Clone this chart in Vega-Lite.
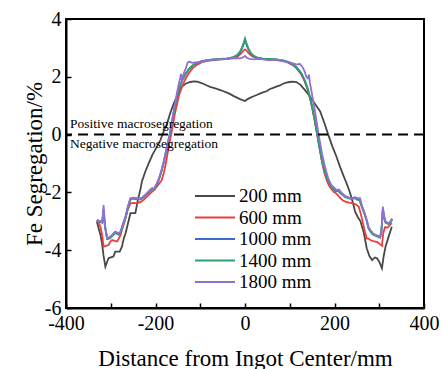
{
"$schema": "https://vega.github.io/schema/vega-lite/v6.json",
"width": 358, "height": 289,
"autosize": {"type": "none"},
"padding": {"left": 66, "top": 19, "right": 19, "bottom": 61},
"background": "white",
"config": {
  "view": {"stroke": "black", "strokeWidth": 2},
  "font": "Liberation Serif",
  "axis": {"grid": false, "domainColor": "black", "domainWidth": 2, "tickColor": "black", "tickWidth": 1.5, "tickSize": -5, "labelFont": "Liberation Serif", "labelFontSize": 20, "labelColor": "black", "titleFont": "Liberation Serif", "titleFontSize": 23, "titleFontWeight": "normal", "titleColor": "black"},
  "legend": {"labelFont": "Liberation Serif"},
  "text": {"font": "Liberation Serif"}
},
"layer": [
{
  "data": {"values": [
{"s":"200 mm","x":-331,"y":-3.01},{"s":"200 mm","x":-327,"y":-3.25},{"s":"200 mm","x":-323,"y":-3.47},{"s":"200 mm","x":-319.6,"y":-3.76},{"s":"200 mm","x":-316,"y":-4.2},{"s":"200 mm","x":-312,"y":-4.57},{"s":"200 mm","x":-308,"y":-4.4},{"s":"200 mm","x":-305,"y":-4.28},{"s":"200 mm","x":-300,"y":-4.25},{"s":"200 mm","x":-294,"y":-4.22},{"s":"200 mm","x":-290,"y":-4.05},{"s":"200 mm","x":-285,"y":-4.05},{"s":"200 mm","x":-280,"y":-4.05},{"s":"200 mm","x":-275,"y":-3.88},{"s":"200 mm","x":-271,"y":-3.6},{"s":"200 mm","x":-267,"y":-3.42},{"s":"200 mm","x":-262,"y":-3.1},{"s":"200 mm","x":-256,"y":-2.72},{"s":"200 mm","x":-250,"y":-2.72},{"s":"200 mm","x":-245,"y":-2.72},{"s":"200 mm","x":-240,"y":-2.3},{"s":"200 mm","x":-234,"y":-1.92},{"s":"200 mm","x":-230,"y":-1.6},{"s":"200 mm","x":-222,"y":-1.25},{"s":"200 mm","x":-215,"y":-0.99},{"s":"200 mm","x":-207,"y":-0.7},{"s":"200 mm","x":-198,"y":-0.45},{"s":"200 mm","x":-189,"y":-0.19},{"s":"200 mm","x":-182,"y":0.1},{"s":"200 mm","x":-174,"y":0.39},{"s":"200 mm","x":-167,"y":0.75},{"s":"200 mm","x":-159,"y":1.08},{"s":"200 mm","x":-150,"y":1.4},{"s":"200 mm","x":-141,"y":1.66},{"s":"200 mm","x":-132,"y":1.77},{"s":"200 mm","x":-122,"y":1.82},{"s":"200 mm","x":-114,"y":1.84},{"s":"200 mm","x":-107,"y":1.83},{"s":"200 mm","x":-100,"y":1.8},{"s":"200 mm","x":-92,"y":1.75},{"s":"200 mm","x":-85,"y":1.7},{"s":"200 mm","x":-78,"y":1.65},{"s":"200 mm","x":-70,"y":1.62},{"s":"200 mm","x":-63,"y":1.58},{"s":"200 mm","x":-55,"y":1.54},{"s":"200 mm","x":-48,"y":1.5},{"s":"200 mm","x":-40,"y":1.45},{"s":"200 mm","x":-33,"y":1.4},{"s":"200 mm","x":-26,"y":1.34},{"s":"200 mm","x":-18,"y":1.28},{"s":"200 mm","x":-11,"y":1.23},{"s":"200 mm","x":-5,"y":1.19},{"s":"200 mm","x":0,"y":1.16},
{"s":"200 mm","x":5,"y":1.22},{"s":"200 mm","x":11,"y":1.27},{"s":"200 mm","x":18,"y":1.32},{"s":"200 mm","x":26,"y":1.37},{"s":"200 mm","x":33,"y":1.42},{"s":"200 mm","x":40,"y":1.46},{"s":"200 mm","x":48,"y":1.5},{"s":"200 mm","x":56,"y":1.58},{"s":"200 mm","x":63,"y":1.62},{"s":"200 mm","x":70,"y":1.66},{"s":"200 mm","x":78,"y":1.7},{"s":"200 mm","x":85,"y":1.76},{"s":"200 mm","x":92,"y":1.8},{"s":"200 mm","x":100,"y":1.82},{"s":"200 mm","x":107,"y":1.83},{"s":"200 mm","x":115,"y":1.82},{"s":"200 mm","x":124,"y":1.72},{"s":"200 mm","x":135,"y":1.52},{"s":"200 mm","x":146,"y":1.3},{"s":"200 mm","x":157,"y":1.05},{"s":"200 mm","x":168,"y":0.8},{"s":"200 mm","x":177,"y":0.42},{"s":"200 mm","x":186,"y":0.0},{"s":"200 mm","x":195,"y":-0.4},{"s":"200 mm","x":204,"y":-0.75},{"s":"200 mm","x":212,"y":-1.1},{"s":"200 mm","x":220,"y":-1.42},{"s":"200 mm","x":226,"y":-1.65},{"s":"200 mm","x":231,"y":-1.85},{"s":"200 mm","x":235,"y":-2.03},{"s":"200 mm","x":241,"y":-2.35},{"s":"200 mm","x":246,"y":-2.67},{"s":"200 mm","x":252,"y":-2.85},{"s":"200 mm","x":258,"y":-3.0},{"s":"200 mm","x":265,"y":-3.36},{"s":"200 mm","x":272,"y":-3.93},{"s":"200 mm","x":278,"y":-4.2},{"s":"200 mm","x":284,"y":-4.34},{"s":"200 mm","x":290,"y":-4.25},{"s":"200 mm","x":295,"y":-4.28},{"s":"200 mm","x":300,"y":-4.4},{"s":"200 mm","x":306,"y":-4.63},{"s":"200 mm","x":310,"y":-4.2},{"s":"200 mm","x":314,"y":-3.88},{"s":"200 mm","x":321,"y":-3.53},{"s":"200 mm","x":328,"y":-3.19},
{"s":"600 mm","x":-331,"y":-2.96},{"s":"600 mm","x":-327,"y":-3.05},{"s":"600 mm","x":-323,"y":-3.19},{"s":"600 mm","x":-319,"y":-3.5},{"s":"600 mm","x":-316,"y":-3.88},{"s":"600 mm","x":-311,"y":-3.85},{"s":"600 mm","x":-305,"y":-3.82},{"s":"600 mm","x":-301,"y":-3.7},{"s":"600 mm","x":-297,"y":-3.65},{"s":"600 mm","x":-291,"y":-3.68},{"s":"600 mm","x":-286,"y":-3.7},{"s":"600 mm","x":-282,"y":-3.6},{"s":"600 mm","x":-278,"y":-3.47},{"s":"600 mm","x":-273,"y":-3.2},{"s":"600 mm","x":-267,"y":-2.9},{"s":"600 mm","x":-262,"y":-2.6},{"s":"600 mm","x":-256,"y":-2.38},{"s":"600 mm","x":-248,"y":-2.36},{"s":"600 mm","x":-241,"y":-2.38},{"s":"600 mm","x":-233,"y":-2.33},{"s":"600 mm","x":-226,"y":-2.25},{"s":"600 mm","x":-219,"y":-2.15},{"s":"600 mm","x":-213,"y":-2.05},{"s":"600 mm","x":-208,"y":-1.98},{"s":"600 mm","x":-202,"y":-1.9},{"s":"600 mm","x":-197,"y":-1.8},{"s":"600 mm","x":-191,"y":-1.68},{"s":"600 mm","x":-186,"y":-1.57},{"s":"600 mm","x":-181,"y":-1.3},{"s":"600 mm","x":-177,"y":-1.0},{"s":"600 mm","x":-173,"y":-0.65},{"s":"600 mm","x":-169,"y":-0.3},{"s":"600 mm","x":-165,"y":0.0},{"s":"600 mm","x":-161,"y":0.35},{"s":"600 mm","x":-157,"y":0.7},{"s":"600 mm","x":-152,"y":1.05},{"s":"600 mm","x":-147,"y":1.38},{"s":"600 mm","x":-141,"y":1.65},{"s":"600 mm","x":-134,"y":1.9},{"s":"600 mm","x":-126,"y":2.12},{"s":"600 mm","x":-117,"y":2.3},{"s":"600 mm","x":-107,"y":2.42},{"s":"600 mm","x":-97,"y":2.5},{"s":"600 mm","x":-85,"y":2.55},{"s":"600 mm","x":-70,"y":2.58},{"s":"600 mm","x":-55,"y":2.6},{"s":"600 mm","x":-40,"y":2.62},{"s":"600 mm","x":-25,"y":2.65},{"s":"600 mm","x":-15,"y":2.72},{"s":"600 mm","x":-8,"y":2.82},{"s":"600 mm","x":-4,"y":2.9},{"s":"600 mm","x":0,"y":2.95},
{"s":"600 mm","x":4,"y":2.9},{"s":"600 mm","x":8,"y":2.82},{"s":"600 mm","x":15,"y":2.72},{"s":"600 mm","x":25,"y":2.65},{"s":"600 mm","x":40,"y":2.62},{"s":"600 mm","x":55,"y":2.6},{"s":"600 mm","x":70,"y":2.58},{"s":"600 mm","x":85,"y":2.55},{"s":"600 mm","x":95,"y":2.5},{"s":"600 mm","x":105,"y":2.42},{"s":"600 mm","x":115,"y":2.3},{"s":"600 mm","x":125,"y":2.1},{"s":"600 mm","x":133,"y":1.85},{"s":"600 mm","x":140,"y":1.55},{"s":"600 mm","x":146,"y":1.2},{"s":"600 mm","x":151,"y":0.85},{"s":"600 mm","x":156,"y":0.45},{"s":"600 mm","x":160,"y":0.1},{"s":"600 mm","x":164,"y":-0.25},{"s":"600 mm","x":168,"y":-0.6},{"s":"600 mm","x":172,"y":-0.95},{"s":"600 mm","x":177,"y":-1.3},{"s":"600 mm","x":182,"y":-1.55},{"s":"600 mm","x":187,"y":-1.75},{"s":"600 mm","x":193,"y":-1.88},{"s":"600 mm","x":198,"y":-1.98},{"s":"600 mm","x":205,"y":-2.05},{"s":"600 mm","x":213,"y":-2.2},{"s":"600 mm","x":219,"y":-2.28},{"s":"600 mm","x":224,"y":-2.32},{"s":"600 mm","x":232,"y":-2.35},{"s":"600 mm","x":242,"y":-2.38},{"s":"600 mm","x":248,"y":-2.42},{"s":"600 mm","x":254,"y":-2.49},{"s":"600 mm","x":258,"y":-2.7},{"s":"600 mm","x":262,"y":-2.95},{"s":"600 mm","x":267,"y":-3.3},{"s":"600 mm","x":272,"y":-3.59},{"s":"600 mm","x":276,"y":-3.6},{"s":"600 mm","x":280,"y":-3.65},{"s":"600 mm","x":285,"y":-3.68},{"s":"600 mm","x":291,"y":-3.7},{"s":"600 mm","x":296,"y":-3.72},{"s":"600 mm","x":302,"y":-3.8},{"s":"600 mm","x":306,"y":-3.85},{"s":"600 mm","x":309,"y":-3.4},{"s":"600 mm","x":313,"y":-3.2},{"s":"600 mm","x":318,"y":-3.22},{"s":"600 mm","x":323,"y":-3.15},{"s":"600 mm","x":328,"y":-3.05},
{"s":"1000 mm","x":-331,"y":-2.95},{"s":"1000 mm","x":-325,"y":-2.99},{"s":"1000 mm","x":-319,"y":-3.02},{"s":"1000 mm","x":-316,"y":-2.6},{"s":"1000 mm","x":-313,"y":-3.17},{"s":"1000 mm","x":-308,"y":-3.59},{"s":"1000 mm","x":-303,"y":-3.57},{"s":"1000 mm","x":-297,"y":-3.49},{"s":"1000 mm","x":-290,"y":-3.37},{"s":"1000 mm","x":-282,"y":-3.44},{"s":"1000 mm","x":-278,"y":-3.37},{"s":"1000 mm","x":-273,"y":-3.12},{"s":"1000 mm","x":-267,"y":-2.85},{"s":"1000 mm","x":-262,"y":-2.52},{"s":"1000 mm","x":-256,"y":-2.22},{"s":"1000 mm","x":-250,"y":-2.19},{"s":"1000 mm","x":-241,"y":-2.21},{"s":"1000 mm","x":-235,"y":-2.22},{"s":"1000 mm","x":-230,"y":-2.19},{"s":"1000 mm","x":-224,"y":-2.11},{"s":"1000 mm","x":-219,"y":-2.04},{"s":"1000 mm","x":-213,"y":-1.94},{"s":"1000 mm","x":-208,"y":-1.87},{"s":"1000 mm","x":-203,"y":-1.87},{"s":"1000 mm","x":-197,"y":-1.71},{"s":"1000 mm","x":-192,"y":-1.52},{"s":"1000 mm","x":-187,"y":-1.28},{"s":"1000 mm","x":-182,"y":-0.98},{"s":"1000 mm","x":-177,"y":-0.63},{"s":"1000 mm","x":-172,"y":-0.28},{"s":"1000 mm","x":-168,"y":0.02},{"s":"1000 mm","x":-164,"y":0.37},{"s":"1000 mm","x":-160,"y":0.72},{"s":"1000 mm","x":-155,"y":1.1},{"s":"1000 mm","x":-150,"y":1.44},{"s":"1000 mm","x":-145,"y":1.69},{"s":"1000 mm","x":-140,"y":1.89},{"s":"1000 mm","x":-133,"y":2.09},{"s":"1000 mm","x":-125,"y":2.27},{"s":"1000 mm","x":-115,"y":2.41},{"s":"1000 mm","x":-105,"y":2.49},{"s":"1000 mm","x":-95,"y":2.54},{"s":"1000 mm","x":-85,"y":2.57},{"s":"1000 mm","x":-70,"y":2.59},{"s":"1000 mm","x":-55,"y":2.61},{"s":"1000 mm","x":-40,"y":2.63},{"s":"1000 mm","x":-28,"y":2.66},{"s":"1000 mm","x":-18,"y":2.73},{"s":"1000 mm","x":-12,"y":2.83},{"s":"1000 mm","x":-7,"y":2.97},{"s":"1000 mm","x":-3,"y":3.13},{"s":"1000 mm","x":0,"y":3.26},
{"s":"1000 mm","x":3,"y":3.13},{"s":"1000 mm","x":7,"y":2.97},{"s":"1000 mm","x":12,"y":2.83},{"s":"1000 mm","x":18,"y":2.73},{"s":"1000 mm","x":28,"y":2.65},{"s":"1000 mm","x":40,"y":2.62},{"s":"1000 mm","x":55,"y":2.61},{"s":"1000 mm","x":70,"y":2.59},{"s":"1000 mm","x":85,"y":2.56},{"s":"1000 mm","x":95,"y":2.52},{"s":"1000 mm","x":105,"y":2.44},{"s":"1000 mm","x":115,"y":2.32},{"s":"1000 mm","x":125,"y":2.14},{"s":"1000 mm","x":133,"y":1.89},{"s":"1000 mm","x":140,"y":1.59},{"s":"1000 mm","x":146,"y":1.24},{"s":"1000 mm","x":151,"y":0.89},{"s":"1000 mm","x":156,"y":0.49},{"s":"1000 mm","x":160,"y":0.14},{"s":"1000 mm","x":164,"y":-0.21},{"s":"1000 mm","x":168,"y":-0.56},{"s":"1000 mm","x":172,"y":-0.89},{"s":"1000 mm","x":177,"y":-1.18},{"s":"1000 mm","x":182,"y":-1.42},{"s":"1000 mm","x":187,"y":-1.62},{"s":"1000 mm","x":193,"y":-1.77},{"s":"1000 mm","x":198,"y":-1.87},{"s":"1000 mm","x":203,"y":-1.94},{"s":"1000 mm","x":208,"y":-1.92},{"s":"1000 mm","x":213,"y":-2.0},{"s":"1000 mm","x":219,"y":-2.07},{"s":"1000 mm","x":224,"y":-2.14},{"s":"1000 mm","x":230,"y":-2.17},{"s":"1000 mm","x":235,"y":-2.19},{"s":"1000 mm","x":241,"y":-2.19},{"s":"1000 mm","x":246,"y":-2.17},{"s":"1000 mm","x":250,"y":-2.22},{"s":"1000 mm","x":256,"y":-2.25},{"s":"1000 mm","x":262,"y":-2.52},{"s":"1000 mm","x":267,"y":-2.72},{"s":"1000 mm","x":272,"y":-2.97},{"s":"1000 mm","x":276,"y":-3.22},{"s":"1000 mm","x":280,"y":-3.32},{"s":"1000 mm","x":285,"y":-3.42},{"s":"1000 mm","x":291,"y":-3.47},{"s":"1000 mm","x":296,"y":-3.5},{"s":"1000 mm","x":302,"y":-3.55},{"s":"1000 mm","x":305,"y":-3.32},{"s":"1000 mm","x":308,"y":-2.6},{"s":"1000 mm","x":311,"y":-2.87},{"s":"1000 mm","x":314,"y":-3.02},{"s":"1000 mm","x":318,"y":-3.05},{"s":"1000 mm","x":321,"y":-3.07},{"s":"1000 mm","x":325,"y":-3.0},{"s":"1000 mm","x":329,"y":-2.92},
{"s":"1400 mm","x":-331,"y":-2.98},{"s":"1400 mm","x":-325,"y":-3.02},{"s":"1400 mm","x":-319,"y":-3.05},{"s":"1400 mm","x":-316,"y":-2.6},{"s":"1400 mm","x":-313,"y":-3.2},{"s":"1400 mm","x":-308,"y":-3.62},{"s":"1400 mm","x":-303,"y":-3.6},{"s":"1400 mm","x":-297,"y":-3.52},{"s":"1400 mm","x":-290,"y":-3.4},{"s":"1400 mm","x":-282,"y":-3.47},{"s":"1400 mm","x":-278,"y":-3.4},{"s":"1400 mm","x":-273,"y":-3.15},{"s":"1400 mm","x":-267,"y":-2.88},{"s":"1400 mm","x":-262,"y":-2.55},{"s":"1400 mm","x":-256,"y":-2.25},{"s":"1400 mm","x":-250,"y":-2.22},{"s":"1400 mm","x":-241,"y":-2.24},{"s":"1400 mm","x":-235,"y":-2.25},{"s":"1400 mm","x":-230,"y":-2.22},{"s":"1400 mm","x":-224,"y":-2.14},{"s":"1400 mm","x":-219,"y":-2.07},{"s":"1400 mm","x":-213,"y":-1.97},{"s":"1400 mm","x":-208,"y":-1.9},{"s":"1400 mm","x":-203,"y":-1.9},{"s":"1400 mm","x":-197,"y":-1.74},{"s":"1400 mm","x":-192,"y":-1.55},{"s":"1400 mm","x":-187,"y":-1.3},{"s":"1400 mm","x":-182,"y":-1.0},{"s":"1400 mm","x":-177,"y":-0.65},{"s":"1400 mm","x":-172,"y":-0.3},{"s":"1400 mm","x":-168,"y":0.0},{"s":"1400 mm","x":-164,"y":0.35},{"s":"1400 mm","x":-160,"y":0.7},{"s":"1400 mm","x":-155,"y":1.1},{"s":"1400 mm","x":-150,"y":1.45},{"s":"1400 mm","x":-145,"y":1.7},{"s":"1400 mm","x":-140,"y":1.9},{"s":"1400 mm","x":-133,"y":2.1},{"s":"1400 mm","x":-125,"y":2.28},{"s":"1400 mm","x":-115,"y":2.42},{"s":"1400 mm","x":-105,"y":2.5},{"s":"1400 mm","x":-95,"y":2.55},{"s":"1400 mm","x":-85,"y":2.58},{"s":"1400 mm","x":-70,"y":2.6},{"s":"1400 mm","x":-55,"y":2.62},{"s":"1400 mm","x":-40,"y":2.64},{"s":"1400 mm","x":-28,"y":2.67},{"s":"1400 mm","x":-18,"y":2.75},{"s":"1400 mm","x":-12,"y":2.85},{"s":"1400 mm","x":-7,"y":3.0},{"s":"1400 mm","x":-3,"y":3.18},{"s":"1400 mm","x":0,"y":3.33},
{"s":"1400 mm","x":3,"y":3.18},{"s":"1400 mm","x":7,"y":3.0},{"s":"1400 mm","x":12,"y":2.85},{"s":"1400 mm","x":18,"y":2.74},{"s":"1400 mm","x":28,"y":2.66},{"s":"1400 mm","x":40,"y":2.63},{"s":"1400 mm","x":55,"y":2.62},{"s":"1400 mm","x":70,"y":2.6},{"s":"1400 mm","x":85,"y":2.57},{"s":"1400 mm","x":95,"y":2.53},{"s":"1400 mm","x":105,"y":2.45},{"s":"1400 mm","x":115,"y":2.33},{"s":"1400 mm","x":125,"y":2.15},{"s":"1400 mm","x":133,"y":1.9},{"s":"1400 mm","x":140,"y":1.6},{"s":"1400 mm","x":146,"y":1.25},{"s":"1400 mm","x":151,"y":0.9},{"s":"1400 mm","x":156,"y":0.5},{"s":"1400 mm","x":160,"y":0.15},{"s":"1400 mm","x":164,"y":-0.2},{"s":"1400 mm","x":168,"y":-0.55},{"s":"1400 mm","x":172,"y":-0.9},{"s":"1400 mm","x":177,"y":-1.2},{"s":"1400 mm","x":182,"y":-1.45},{"s":"1400 mm","x":187,"y":-1.65},{"s":"1400 mm","x":193,"y":-1.8},{"s":"1400 mm","x":198,"y":-1.9},{"s":"1400 mm","x":203,"y":-1.97},{"s":"1400 mm","x":208,"y":-1.95},{"s":"1400 mm","x":213,"y":-2.03},{"s":"1400 mm","x":219,"y":-2.1},{"s":"1400 mm","x":224,"y":-2.17},{"s":"1400 mm","x":230,"y":-2.2},{"s":"1400 mm","x":235,"y":-2.22},{"s":"1400 mm","x":241,"y":-2.22},{"s":"1400 mm","x":246,"y":-2.2},{"s":"1400 mm","x":250,"y":-2.25},{"s":"1400 mm","x":256,"y":-2.28},{"s":"1400 mm","x":262,"y":-2.55},{"s":"1400 mm","x":267,"y":-2.75},{"s":"1400 mm","x":272,"y":-3.0},{"s":"1400 mm","x":276,"y":-3.25},{"s":"1400 mm","x":280,"y":-3.35},{"s":"1400 mm","x":285,"y":-3.45},{"s":"1400 mm","x":291,"y":-3.5},{"s":"1400 mm","x":296,"y":-3.53},{"s":"1400 mm","x":302,"y":-3.57},{"s":"1400 mm","x":305,"y":-3.35},{"s":"1400 mm","x":308,"y":-2.6},{"s":"1400 mm","x":311,"y":-2.9},{"s":"1400 mm","x":314,"y":-3.05},{"s":"1400 mm","x":318,"y":-3.08},{"s":"1400 mm","x":321,"y":-3.1},{"s":"1400 mm","x":325,"y":-3.03},{"s":"1400 mm","x":329,"y":-2.95},
{"s":"1800 mm","x":-331,"y":-2.96},{"s":"1800 mm","x":-328,"y":-3.0},{"s":"1800 mm","x":-325,"y":-2.98},{"s":"1800 mm","x":-322,"y":-3.02},{"s":"1800 mm","x":-319,"y":-3.0},{"s":"1800 mm","x":-316,"y":-2.44},{"s":"1800 mm","x":-313,"y":-3.1},{"s":"1800 mm","x":-308,"y":-3.59},{"s":"1800 mm","x":-303,"y":-3.55},{"s":"1800 mm","x":-297,"y":-3.47},{"s":"1800 mm","x":-293,"y":-3.4},{"s":"1800 mm","x":-290,"y":-3.36},{"s":"1800 mm","x":-286,"y":-3.38},{"s":"1800 mm","x":-282,"y":-3.42},{"s":"1800 mm","x":-278,"y":-3.35},{"s":"1800 mm","x":-273,"y":-3.1},{"s":"1800 mm","x":-267,"y":-2.84},{"s":"1800 mm","x":-262,"y":-2.5},{"s":"1800 mm","x":-256,"y":-2.2},{"s":"1800 mm","x":-250,"y":-2.18},{"s":"1800 mm","x":-245,"y":-2.2},{"s":"1800 mm","x":-241,"y":-2.2},{"s":"1800 mm","x":-235,"y":-2.22},{"s":"1800 mm","x":-230,"y":-2.18},{"s":"1800 mm","x":-224,"y":-2.1},{"s":"1800 mm","x":-219,"y":-2.03},{"s":"1800 mm","x":-213,"y":-1.92},{"s":"1800 mm","x":-208,"y":-1.86},{"s":"1800 mm","x":-203,"y":-1.88},{"s":"1800 mm","x":-197,"y":-1.69},{"s":"1800 mm","x":-192,"y":-1.5},{"s":"1800 mm","x":-187,"y":-1.25},{"s":"1800 mm","x":-182,"y":-0.95},{"s":"1800 mm","x":-177,"y":-0.6},{"s":"1800 mm","x":-172,"y":-0.25},{"s":"1800 mm","x":-168,"y":0.05},{"s":"1800 mm","x":-164,"y":0.4},{"s":"1800 mm","x":-160,"y":0.75},{"s":"1800 mm","x":-156,"y":1.1},{"s":"1800 mm","x":-152,"y":1.45},{"s":"1800 mm","x":-148,"y":1.75},{"s":"1800 mm","x":-145,"y":1.95},{"s":"1800 mm","x":-143,"y":2.1},{"s":"1800 mm","x":-141,"y":1.85},{"s":"1800 mm","x":-138,"y":2.05},{"s":"1800 mm","x":-135,"y":2.2},{"s":"1800 mm","x":-132,"y":2.3},{"s":"1800 mm","x":-128,"y":2.5},{"s":"1800 mm","x":-124,"y":2.52},{"s":"1800 mm","x":-118,"y":2.48},{"s":"1800 mm","x":-110,"y":2.5},{"s":"1800 mm","x":-100,"y":2.5},{"s":"1800 mm","x":-90,"y":2.55},{"s":"1800 mm","x":-80,"y":2.58},{"s":"1800 mm","x":-70,"y":2.6},{"s":"1800 mm","x":-60,"y":2.6},{"s":"1800 mm","x":-50,"y":2.6},{"s":"1800 mm","x":-40,"y":2.62},{"s":"1800 mm","x":-30,"y":2.64},{"s":"1800 mm","x":-20,"y":2.65},{"s":"1800 mm","x":-10,"y":2.64},{"s":"1800 mm","x":-5,"y":2.67},{"s":"1800 mm","x":0,"y":2.72},
{"s":"1800 mm","x":5,"y":2.65},{"s":"1800 mm","x":10,"y":2.62},{"s":"1800 mm","x":20,"y":2.6},{"s":"1800 mm","x":30,"y":2.62},{"s":"1800 mm","x":40,"y":2.6},{"s":"1800 mm","x":50,"y":2.58},{"s":"1800 mm","x":60,"y":2.58},{"s":"1800 mm","x":70,"y":2.6},{"s":"1800 mm","x":80,"y":2.56},{"s":"1800 mm","x":90,"y":2.52},{"s":"1800 mm","x":100,"y":2.5},{"s":"1800 mm","x":110,"y":2.45},{"s":"1800 mm","x":116,"y":2.42},{"s":"1800 mm","x":122,"y":2.45},{"s":"1800 mm","x":128,"y":2.35},{"s":"1800 mm","x":133,"y":2.2},{"s":"1800 mm","x":137,"y":2.0},{"s":"1800 mm","x":140,"y":1.95},{"s":"1800 mm","x":143,"y":2.08},{"s":"1800 mm","x":145,"y":1.8},{"s":"1800 mm","x":148,"y":1.55},{"s":"1800 mm","x":152,"y":1.2},{"s":"1800 mm","x":156,"y":0.85},{"s":"1800 mm","x":160,"y":0.45},{"s":"1800 mm","x":164,"y":0.05},{"s":"1800 mm","x":168,"y":-0.3},{"s":"1800 mm","x":172,"y":-0.65},{"s":"1800 mm","x":177,"y":-1.0},{"s":"1800 mm","x":182,"y":-1.3},{"s":"1800 mm","x":187,"y":-1.55},{"s":"1800 mm","x":193,"y":-1.75},{"s":"1800 mm","x":198,"y":-1.82},{"s":"1800 mm","x":205,"y":-1.92},{"s":"1800 mm","x":210,"y":-1.9},{"s":"1800 mm","x":215,"y":-2.0},{"s":"1800 mm","x":220,"y":-2.08},{"s":"1800 mm","x":226,"y":-2.15},{"s":"1800 mm","x":232,"y":-2.18},{"s":"1800 mm","x":238,"y":-2.2},{"s":"1800 mm","x":243,"y":-2.2},{"s":"1800 mm","x":248,"y":-2.18},{"s":"1800 mm","x":252,"y":-2.2},{"s":"1800 mm","x":257,"y":-2.2},{"s":"1800 mm","x":262,"y":-2.5},{"s":"1800 mm","x":267,"y":-2.7},{"s":"1800 mm","x":272,"y":-2.95},{"s":"1800 mm","x":276,"y":-3.2},{"s":"1800 mm","x":280,"y":-3.3},{"s":"1800 mm","x":285,"y":-3.4},{"s":"1800 mm","x":291,"y":-3.47},{"s":"1800 mm","x":296,"y":-3.5},{"s":"1800 mm","x":302,"y":-3.53},{"s":"1800 mm","x":305,"y":-3.3},{"s":"1800 mm","x":308,"y":-2.49},{"s":"1800 mm","x":311,"y":-2.8},{"s":"1800 mm","x":314,"y":-3.01},{"s":"1800 mm","x":318,"y":-3.05},{"s":"1800 mm","x":321,"y":-3.07},{"s":"1800 mm","x":325,"y":-3.0},{"s":"1800 mm","x":329,"y":-2.9}
  ]},
  "mark": {"type": "line", "strokeWidth": 1.8},
  "encoding": {
    "x": {"field": "x", "type": "quantitative", "scale": {"domain": [-400, 400], "nice": false},
      "axis": {"values": [-400,-300,-200,-100,0,100,200,300,400], "labelExpr": "datum.value % 200 == 0 ? '' + datum.value : ''", "title": "Distance from Ingot Center/mm", "labelFont": "Liberation Serif", "labelFontSize": 20, "titleFont": "Liberation Serif", "labelPadding": 10, "titlePadding": 14, "labelFlush": false}},
    "y": {"field": "y", "type": "quantitative", "scale": {"domain": [-6, 4], "nice": false},
      "axis": {"values": [-6,-5,-4,-3,-2,-1,0,1,2,3,4], "labelExpr": "datum.value % 2 == 0 ? '' + datum.value : ''", "title": "Fe Segregation/%", "labelFont": "Liberation Serif", "labelFontSize": 20, "titleFont": "Liberation Serif", "labelPadding": 10, "titlePadding": -2, "labelFlush": false}},
    "color": {"field": "s", "type": "nominal",
      "scale": {"domain": ["200 mm","600 mm","1000 mm","1400 mm","1800 mm"], "range": ["#484848","#f03c3c","#3a6cc8","#2ea06c","#9070d0"]},
      "legend": {"title": null, "orient": "none", "legendX": 138, "legendY": 166, "symbolType": "M-2,0L2,0", "symbolSize": 400, "symbolStrokeWidth": 2, "labelFont": "Liberation Serif", "labelFontSize": 19, "labelColor": "black", "labelOffset": 13, "rowPadding": 0.5}},
    "order": {"field": "x", "type": "quantitative"}
  }
},
{
  "data": {"values": [{"y": 0}]},
  "mark": {"type": "rule", "color": "black", "strokeWidth": 2, "strokeDash": [10, 6]},
  "encoding": {"y": {"field": "y", "type": "quantitative"}}
},
{
  "data": {"values": [{"x": -391, "y": 0.37, "label": "Positive macrosegregation"}, {"x": -391, "y": -0.33, "label": "Negative macrosegregation"}]},
  "mark": {"type": "text", "align": "left", "baseline": "middle", "font": "Liberation Serif", "fontSize": 13.5, "color": "black"},
  "encoding": {"x": {"field": "x", "type": "quantitative"}, "y": {"field": "y", "type": "quantitative"}, "text": {"field": "label"}}
}
]
}
